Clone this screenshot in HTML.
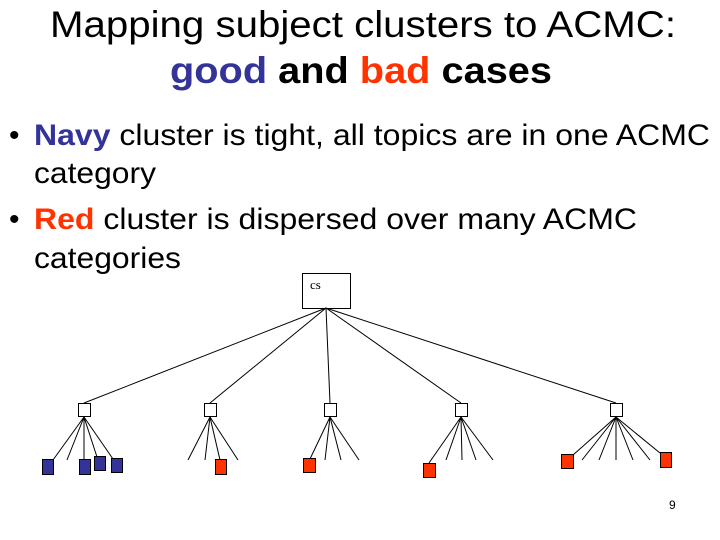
<!DOCTYPE html>
<html><head><style>html,body{margin:0;padding:0;background:#fff}svg{display:block}</style></head>
<body>
<svg width="720" height="540" viewBox="0 0 720 540" xmlns="http://www.w3.org/2000/svg" font-family="Liberation Sans, Arial, sans-serif">
<text x="50" y="37" font-size="37" textLength="626" lengthAdjust="spacingAndGlyphs">Mapping subject clusters to ACMC:</text>
<text x="170" y="83" font-size="37" font-weight="bold" textLength="382" lengthAdjust="spacingAndGlyphs"><tspan fill="#333399">good</tspan> and <tspan fill="#ff3300">bad</tspan> cases</text>
<g font-size="30">
<text x="9" y="145">•</text>
<text x="34" y="145" textLength="676" lengthAdjust="spacingAndGlyphs"><tspan fill="#333399" font-weight="bold">Navy</tspan> cluster is tight, all topics are in one ACMC</text>
<text x="34" y="183" textLength="122" lengthAdjust="spacingAndGlyphs">category</text>
<text x="9" y="229">•</text>
<text x="34" y="229" textLength="603" lengthAdjust="spacingAndGlyphs"><tspan fill="#ff3300" font-weight="bold">Red</tspan> cluster is dispersed over many ACMC</text>
<text x="34" y="268" textLength="147" lengthAdjust="spacingAndGlyphs">categories</text>
</g>
<g stroke="#000" stroke-width="1" fill="none">
<rect x="302.5" y="273.5" width="48" height="35" fill="#fff"/>
<line x1="326" y1="308" x2="84" y2="403"/>
<line x1="326" y1="308" x2="210" y2="403"/>
<line x1="326" y1="308" x2="330" y2="403"/>
<line x1="326" y1="308" x2="461" y2="403"/>
<line x1="326" y1="308" x2="616" y2="403"/>
<!-- node1 -->
<line x1="84" y1="417" x2="53" y2="460"/><line x1="84" y1="417" x2="67" y2="460"/><line x1="84" y1="417" x2="84" y2="460"/><line x1="84" y1="417" x2="97" y2="457"/><line x1="84" y1="417" x2="113" y2="459"/>
<!-- node2 -->
<line x1="210" y1="417" x2="188" y2="460"/><line x1="210" y1="417" x2="205" y2="460"/><line x1="210" y1="417" x2="220" y2="460"/><line x1="210" y1="417" x2="238" y2="460"/>
<!-- node3 -->
<line x1="330" y1="417" x2="310" y2="459"/><line x1="330" y1="417" x2="325" y2="460"/><line x1="330" y1="417" x2="341" y2="460"/><line x1="330" y1="417" x2="359" y2="460"/>
<!-- node4 -->
<line x1="461" y1="417" x2="429" y2="463"/><line x1="461" y1="417" x2="446" y2="460"/><line x1="461" y1="417" x2="462" y2="460"/><line x1="461" y1="417" x2="476" y2="460"/><line x1="461" y1="417" x2="493" y2="460"/>
<!-- node5 -->
<line x1="616" y1="417" x2="573" y2="455"/><line x1="616" y1="417" x2="582" y2="460"/><line x1="616" y1="417" x2="599" y2="460"/><line x1="616" y1="417" x2="616" y2="460"/><line x1="616" y1="417" x2="633" y2="460"/><line x1="616" y1="417" x2="650" y2="460"/><line x1="616" y1="417" x2="660" y2="453"/>
<rect x="78.5" y="403.5" width="12" height="13" fill="#fff"/>
<rect x="204.5" y="403.5" width="12" height="13" fill="#fff"/>
<rect x="324.5" y="403.5" width="12" height="13" fill="#fff"/>
<rect x="455.5" y="403.5" width="12" height="13" fill="#fff"/>
<rect x="610.5" y="403.5" width="12" height="13" fill="#fff"/>
<g fill="#333399">
<rect x="42.5" y="459.5" width="11" height="15"/>
<rect x="79.5" y="459.5" width="11" height="15"/>
<rect x="94.5" y="456.5" width="11" height="14"/>
<rect x="111.5" y="458.5" width="11" height="14"/>
</g>
<g fill="#ff3300">
<rect x="215.5" y="459.5" width="11" height="15"/>
<rect x="303.5" y="458.5" width="12" height="14"/>
<rect x="423.5" y="463.5" width="12" height="14"/>
<rect x="561.5" y="454.5" width="12" height="14"/>
<rect x="660.5" y="452.5" width="11" height="15"/>
</g>
</g>
<text x="310" y="289" font-family="Liberation Serif, serif" font-size="13">cs</text>
<text x="669" y="509" font-size="12">9</text>
</svg>
</body></html>
